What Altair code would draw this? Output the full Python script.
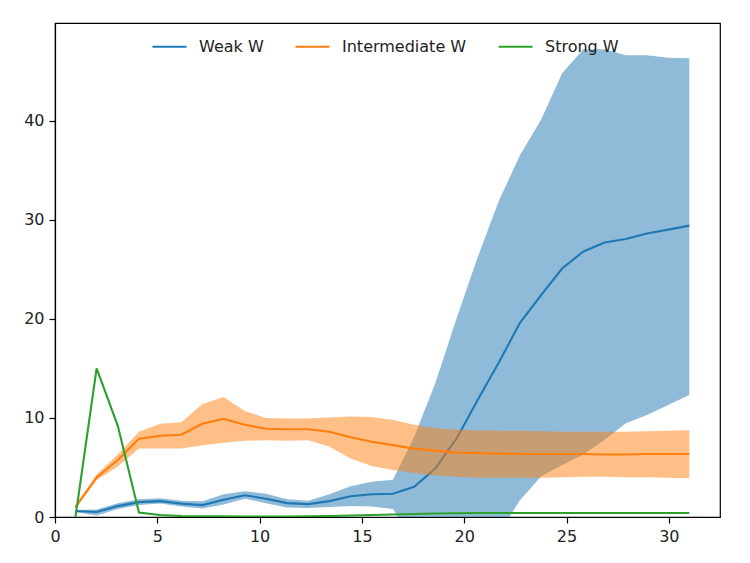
import altair as alt
import pandas as pd

x_vals = [1.0, 2.034, 3.069, 4.103, 5.138, 6.172, 7.207, 8.241, 9.276, 10.31,
          11.345, 12.379, 13.414, 14.448, 15.483, 16.517, 17.552, 18.586, 19.621, 20.655,
          21.69, 22.724, 23.759, 24.793, 25.828, 26.862, 27.897, 28.931, 29.966, 31.0]

weak_mean = [0.6, 0.5, 1.1, 1.5, 1.6, 1.35, 1.2, 1.75, 2.2, 1.85,
             1.4, 1.3, 1.6, 2.1, 2.3, 2.35, 3.05, 4.9, 7.9, 11.8,
             15.6, 19.6, 22.4, 25.1, 26.8, 27.7, 28.05, 28.6, 29.0, 29.4]
weak_upper = [0.7, 0.75, 1.4, 1.8, 1.9, 1.65, 1.6, 2.3, 2.6, 2.35,
              1.8, 1.65, 2.3, 3.1, 3.55, 3.75, 8.1, 13.5, 20.0, 26.2,
              31.9, 36.5, 40.1, 44.8, 47.2, 47.2, 46.6, 46.6, 46.35, 46.3]
weak_lower = [0.5, 0.15, 0.8, 1.2, 1.35, 1.05, 0.85, 1.25, 1.85, 1.4,
              0.95, 0.9, 1.0, 1.1, 1.05, 0.8, -2.5, -4.0, -4.5, -3.5,
              -1.7, 1.7, 4.1, 5.25, 6.3, 7.8, 9.45, 10.3, 11.3, 12.3]

inter_mean = [1.0, 4.0, 5.75, 7.9, 8.2, 8.3, 9.4, 9.9, 9.3, 8.9,
              8.85, 8.85, 8.6, 8.05, 7.6, 7.25, 6.9, 6.7, 6.5, 6.45,
              6.4, 6.35, 6.35, 6.35, 6.35, 6.3, 6.3, 6.35, 6.35, 6.35]
inter_upper = [1.2, 4.3, 6.3, 8.6, 9.4, 9.55, 11.4, 12.1, 10.7, 10.0,
               9.95, 9.95, 10.05, 10.15, 10.1, 9.8, 9.3, 8.95, 8.8, 8.75,
               8.7, 8.7, 8.65, 8.6, 8.6, 8.6, 8.6, 8.65, 8.7, 8.75]
inter_lower = [0.85, 3.7, 5.1, 6.9, 6.9, 6.9, 7.25, 7.5, 7.7, 7.75,
               7.7, 7.75, 7.1, 5.9, 5.15, 4.75, 4.45, 4.2, 4.05, 3.95,
               3.95, 3.95, 3.95, 4.0, 4.05, 4.05, 4.0, 4.0, 3.95, 3.9]

strong_mean = [0.0, 15.0, 9.2, 0.45, 0.2, 0.1, 0.08, 0.06, 0.05, 0.05,
               0.05, 0.07, 0.1, 0.15, 0.2, 0.25, 0.3, 0.35, 0.38, 0.4,
               0.4, 0.4, 0.4, 0.4, 0.4, 0.4, 0.4, 0.4, 0.4, 0.4]

series_names = ["Weak W", "Intermediate W", "Strong W"]
series_colors = ["#1f77b4", "#ff7f0e", "#2ca02c"]

rows = []
for name, mean, lo, hi in [
    ("Weak W", weak_mean, weak_lower, weak_upper),
    ("Intermediate W", inter_mean, inter_lower, inter_upper),
    ("Strong W", strong_mean, None, None),
]:
    for i, xv in enumerate(x_vals):
        rows.append({
            "x": xv, "series": name, "mean": mean[i],
            "lo": lo[i] if lo else mean[i], "hi": hi[i] if hi else mean[i],
        })
df = pd.DataFrame(rows)

FONT = "DejaVu Sans"
xscale = alt.Scale(domain=[0, 32.5], nice=False, zero=False)
yscale = alt.Scale(domain=[0, 49.85], nice=False)
xaxis = alt.Axis(values=[0, 5, 10, 15, 20, 25, 30], title=None, grid=False,
                 format="d", labelFlush=False)
yaxis = alt.Axis(values=[0, 10, 20, 30, 40], title=None, grid=False,
                 format="d", labelFlush=False)

color_scale = alt.Scale(domain=series_names, range=series_colors)

base = alt.Chart(df)
layers = []
for name, col in zip(series_names, series_colors):
    sub = base.transform_filter(alt.datum.series == name)
    if name != "Strong W":
        layers.append(
            sub.mark_area(opacity=0.5, clip=True, color=col).encode(
                x=alt.X("x:Q", scale=xscale, axis=xaxis),
                y=alt.Y("lo:Q", scale=yscale, axis=yaxis),
                y2="hi:Q",
            )
        )
    layers.append(
        sub.mark_line(strokeWidth=2.1, clip=True).encode(
            x=alt.X("x:Q", scale=xscale, axis=xaxis),
            y=alt.Y("mean:Q", scale=yscale, axis=yaxis),
            color=alt.Color(
                "series:N", scale=color_scale,
                legend=alt.Legend(
                    title=None, orient="none", legendX=96, legendY=5,
                    direction="horizontal", symbolType="stroke",
                    symbolSize=1156, symbolStrokeWidth=2.1,
                    labelFontSize=16, labelFont=FONT, labelColor="#222222",
                    labelOffset=11, columnPadding=27,
                ),
            ),
        )
    )

chart = alt.layer(*layers).properties(
    width=665, height=494,
    padding={"left": 47, "top": 15, "right": 22, "bottom": 38},
    autosize=alt.AutoSizeParams(type="none"),
).configure_view(
    stroke="#000000", strokeWidth=1.2
).configure_axis(
    domainColor="#000000", domainWidth=1.2, tickColor="#000000", tickWidth=1.2,
    tickSize=6, labelFont=FONT, labelFontSize=16, labelColor="#222222",
    labelPadding=5,
)

chart.save("out.html", embed_options={"renderer": "svg", "actions": False})
